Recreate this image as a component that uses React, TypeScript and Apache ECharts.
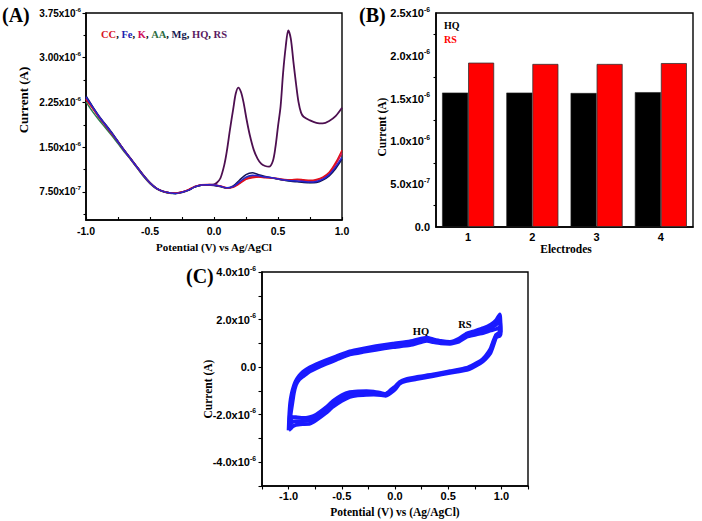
import React, { useEffect, useRef } from "react";
import * as echarts from "echarts";

// ---------- Panel A: DPV curves (current in µA) ----------
const potentialA = [-1.0, -0.95, -0.9, -0.85, -0.8, -0.75, -0.7, -0.65, -0.6, -0.55, -0.5, -0.45, -0.4, -0.35, -0.3, -0.25, -0.2, -0.15, -0.1, -0.05, 0.0, 0.05, 0.1, 0.15, 0.2, 0.25, 0.3, 0.35, 0.4, 0.45, 0.5, 0.55, 0.6, 0.65, 0.7, 0.75, 0.8, 0.85, 0.9, 0.95, 1.0];
const ccA = [2.30, 2.16, 2.01, 1.87, 1.73, 1.59, 1.44, 1.30, 1.16, 1.02, 0.90, 0.81, 0.76, 0.735, 0.73, 0.75, 0.79, 0.84, 0.87, 0.875, 0.87, 0.85, 0.82, 0.83, 0.89, 0.96, 0.99, 1.0, 0.99, 0.985, 0.975, 0.96, 0.955, 0.965, 0.955, 0.945, 0.96, 1.0, 1.08, 1.24, 1.45];
const feA = [2.34, 2.18, 2.02, 1.88, 1.74, 1.59, 1.44, 1.30, 1.16, 1.02, 0.90, 0.81, 0.76, 0.735, 0.725, 0.745, 0.78, 0.835, 0.865, 0.87, 0.865, 0.845, 0.82, 0.84, 0.92, 1.0, 1.03, 1.02, 1.0, 0.99, 0.97, 0.95, 0.94, 0.935, 0.925, 0.915, 0.925, 0.965, 1.04, 1.17, 1.33];
const kA = [2.31, 2.16, 2.01, 1.87, 1.73, 1.59, 1.44, 1.30, 1.16, 1.02, 0.90, 0.81, 0.76, 0.735, 0.728, 0.748, 0.785, 0.84, 0.868, 0.872, 0.868, 0.848, 0.82, 0.835, 0.9, 0.97, 1.0, 1.005, 0.995, 0.985, 0.97, 0.955, 0.95, 0.955, 0.94, 0.93, 0.945, 0.985, 1.06, 1.21, 1.40];
const aaA = [2.26, 2.10, 1.96, 1.83, 1.70, 1.56, 1.42, 1.29, 1.15, 1.01, 0.89, 0.805, 0.755, 0.73, 0.725, 0.745, 0.78, 0.835, 0.862, 0.868, 0.862, 0.842, 0.815, 0.835, 0.91, 0.985, 1.015, 1.01, 0.995, 0.985, 0.965, 0.945, 0.935, 0.93, 0.92, 0.91, 0.92, 0.96, 1.03, 1.16, 1.32];
const mgA = [2.36, 2.19, 2.03, 1.89, 1.75, 1.60, 1.45, 1.31, 1.17, 1.03, 0.91, 0.815, 0.762, 0.735, 0.725, 0.742, 0.778, 0.832, 0.862, 0.868, 0.86, 0.84, 0.815, 0.85, 0.95, 1.04, 1.07, 1.04, 1.01, 0.99, 0.965, 0.945, 0.93, 0.92, 0.91, 0.905, 0.91, 0.95, 1.02, 1.14, 1.30];
const hqrsPotential = [-1.0, -0.95, -0.9, -0.85, -0.8, -0.75, -0.7, -0.65, -0.6, -0.55, -0.5, -0.45, -0.4, -0.35, -0.3, -0.25, -0.2, -0.15, -0.1, -0.05, 0.0, 0.02, 0.05, 0.08, 0.1, 0.125, 0.15, 0.17, 0.19, 0.21, 0.23, 0.255, 0.28, 0.31, 0.34, 0.37, 0.4, 0.43, 0.46, 0.48, 0.5, 0.52, 0.54, 0.56, 0.58, 0.6, 0.62, 0.64, 0.66, 0.68, 0.7, 0.75, 0.8, 0.85, 0.9, 0.95, 1.0];
const hqrsCurrent = [2.33, 2.17, 2.01, 1.87, 1.73, 1.59, 1.44, 1.30, 1.16, 1.02, 0.90, 0.81, 0.76, 0.735, 0.727, 0.747, 0.783, 0.838, 0.866, 0.87, 0.875, 0.9, 0.98, 1.2, 1.43, 1.8, 2.14, 2.40, 2.50, 2.43, 2.26, 1.96, 1.70, 1.46, 1.31, 1.22, 1.185, 1.175, 1.27, 1.50, 1.85, 2.18, 2.75, 3.18, 3.46, 3.32, 2.94, 2.58, 2.26, 2.08, 2.01, 1.95, 1.91, 1.90, 1.94, 2.02, 2.16];
const aYTicks = [0.75, 1.5, 2.25, 3.0, 3.75];
const aYMinorTicks = [0.375, 1.125, 1.875, 2.625, 3.375];
const aLegend = [
  { name: "CC", color: "#d8121e" },
  { name: "Fe", color: "#1c1cb0" },
  { name: "K", color: "#d0105c" },
  { name: "AA", color: "#2d6e44" },
  { name: "Mg", color: "#161650" },
  { name: "HQ", color: "#5a1a62" },
  { name: "RS", color: "#5a1a62" },
];

// ---------- Panel B: bars (µA) ----------
const electrodes = ["1", "2", "3", "4"];
const hqB = [1.57, 1.57, 1.565, 1.575];
const rsB = [1.92, 1.905, 1.905, 1.915];

// ---------- Panel C: CV cycles (potential V, current µA) ----------
const cvOuter = [
  [-1.0, -2.66], [-0.995, -2.1], [-0.985, -1.5], [-0.97, -1.1], [-0.95, -0.78], [-0.93, -0.56], [-0.9, -0.36], [-0.867, -0.2], [-0.81, -0.03], [-0.74, 0.12], [-0.65, 0.29], [-0.55, 0.46], [-0.425, 0.66], [-0.3, 0.78], [-0.18, 0.88], [-0.02, 0.99], [0.14, 1.08], [0.26, 1.21], [0.3, 1.24], [0.36, 1.17], [0.43, 1.1], [0.517, 1.06], [0.6, 1.19], [0.675, 1.42], [0.75, 1.52], [0.832, 1.64], [0.9, 1.79], [0.95, 1.97], [0.985, 2.22],
  [0.992, 1.85], [0.995, 1.5], [0.985, 1.32], [0.95, 1.25], [0.92, 0.86], [0.896, 0.58], [0.85, 0.34], [0.8, 0.16], [0.675, -0.12], [0.517, -0.24], [0.359, -0.38], [0.2, -0.51], [0.1, -0.59], [0.043, -0.7], [0.005, -0.92], [-0.04, -1.09], [-0.089, -1.21], [-0.13, -1.18], [-0.2, -1.16], [-0.267, -1.17], [-0.35, -1.19], [-0.425, -1.25], [-0.5, -1.42], [-0.583, -1.67], [-0.65, -1.93], [-0.741, -2.23], [-0.8, -2.38], [-0.867, -2.4], [-0.93, -2.43], [-0.962, -2.5], [-0.985, -2.6], [-1.0, -2.66],
];
const cvMiddle = [
  [-0.995, -2.48], [-0.99, -2.12], [-0.98, -1.72], [-0.968, -1.32], [-0.95, -0.94], [-0.93, -0.65], [-0.9, -0.44], [-0.867, -0.30], [-0.81, -0.12], [-0.74, 0.03], [-0.65, 0.21], [-0.55, 0.38], [-0.425, 0.60], [-0.3, 0.71], [-0.18, 0.80], [-0.02, 0.91], [0.14, 1.0], [0.26, 1.14], [0.3, 1.17], [0.36, 1.11], [0.43, 1.05], [0.517, 1.02], [0.6, 1.13], [0.675, 1.35], [0.75, 1.43], [0.832, 1.52], [0.9, 1.65], [0.95, 1.78], [0.983, 1.94],
  [0.99, 1.72], [0.99, 1.5], [0.98, 1.4], [0.95, 1.31], [0.92, 0.95], [0.896, 0.66], [0.85, 0.40], [0.8, 0.20], [0.675, -0.07], [0.517, -0.20], [0.359, -0.34], [0.2, -0.46], [0.1, -0.55], [0.043, -0.66], [0.005, -0.86], [-0.04, -1.02], [-0.089, -1.17], [-0.13, -1.13], [-0.2, -1.09], [-0.267, -1.09], [-0.35, -1.10], [-0.425, -1.15], [-0.5, -1.30], [-0.583, -1.55], [-0.65, -1.81], [-0.741, -2.12], [-0.8, -2.24], [-0.867, -2.27], [-0.93, -2.27], [-0.962, -2.30], [-0.98, -2.4], [-0.995, -2.48],
];
const cvInner = [
  [-0.99, -2.3], [-0.985, -2.15], [-0.978, -1.9], [-0.965, -1.52], [-0.95, -1.08], [-0.93, -0.74], [-0.9, -0.52], [-0.867, -0.4], [-0.81, -0.21], [-0.74, -0.05], [-0.65, 0.13], [-0.55, 0.31], [-0.425, 0.53], [-0.3, 0.64], [-0.18, 0.73], [-0.02, 0.84], [0.14, 0.92], [0.26, 1.07], [0.3, 1.1], [0.36, 1.05], [0.43, 1.0], [0.517, 0.98], [0.6, 1.07], [0.675, 1.28], [0.75, 1.36], [0.832, 1.44], [0.9, 1.54], [0.95, 1.6], [0.98, 1.66],
  [0.985, 1.5], [0.97, 1.42], [0.95, 1.36], [0.92, 1.04], [0.896, 0.75], [0.85, 0.46], [0.8, 0.25], [0.675, -0.03], [0.517, -0.17], [0.359, -0.31], [0.2, -0.42], [0.1, -0.51], [0.043, -0.63], [0.005, -0.8], [-0.04, -0.96], [-0.089, -1.13], [-0.13, -1.09], [-0.2, -1.03], [-0.267, -1.01], [-0.35, -1.02], [-0.425, -1.05], [-0.5, -1.18], [-0.583, -1.43], [-0.65, -1.7], [-0.741, -2.0], [-0.8, -2.1], [-0.867, -2.14], [-0.93, -2.1], [-0.962, -2.1], [-0.975, -2.18], [-0.985, -2.25], [-0.99, -2.3],
];

const SANS = "Liberation Sans, Arial, sans-serif";
const SERIF = "Liberation Serif, Times New Roman, serif";

function sciLabel(v: number, digits: number) {
  if (Math.abs(v) < 1e-9) return "{m|0.0}";
  const a = Math.abs(v);
  let mant: number, exp: number;
  if (a < 1) { mant = v * 10; exp = -7; } else { mant = v; exp = -6; }
  return `{m|${mant.toFixed(digits)}x10}{e|${exp}}`;
}

const richLabel = (size: number) => ({
  m: { fontFamily: SANS, fontWeight: "bold", fontSize: size, color: "#000", lineHeight: size + 4 },
  e: { fontFamily: SANS, fontWeight: "bold", fontSize: size * 0.62, color: "#000", verticalAlign: "top", lineHeight: size * 0.62 },
});

const axisLine = { show: true, onZero: false, lineStyle: { color: "#000", width: 1.6 } };
const tickStyle = { color: "#000", width: 1.1 };

export default function App() {
  const ref = useRef<HTMLDivElement>(null);
  useEffect(() => {
    if (!ref.current) return;
    const chart = echarts.init(ref.current, undefined, { renderer: "svg" });
    const pair = (xs: number[], ys: number[]) => xs.map((x, i) => [x, ys[i]]);
    const aSeries = [
      { name: "HQ, RS", data: pair(hqrsPotential, hqrsCurrent), color: "#4d0f50", width: 1.8 },
      { name: "AA", data: pair(potentialA, aaA), color: "#2e7d4f", width: 1.5 },
      { name: "Mg", data: pair(potentialA, mgA), color: "#14145a", width: 1.5 },
      { name: "K", data: pair(potentialA, kA), color: "#d0105c", width: 1.5 },
      { name: "CC", data: pair(potentialA, ccA), color: "#e0101a", width: 1.5 },
      { name: "Fe", data: pair(potentialA, feA), color: "#2424d0", width: 1.5 },
    ].map((s) => ({
      type: "line", name: s.name, xAxisIndex: 0, yAxisIndex: 0, data: s.data,
      showSymbol: false, smooth: 0.3, lineStyle: { color: s.color, width: s.width }, itemStyle: { color: s.color },
    }));
    const cvSeries = [cvOuter, cvMiddle, cvInner].map((d, i) => ({
      type: "line", name: "cycle" + (i + 1), xAxisIndex: 3, yAxisIndex: 3, data: d,
      showSymbol: false, smooth: 0.15, lineStyle: { color: "#1a1aff", width: 3.8 },
    }));

    const legendRich: any = {};
    const parts: string[] = [];
    aLegend.forEach((l, i) => {
      legendRich["c" + i] = { fill: l.color, color: l.color, fontFamily: SERIF, fontWeight: "bold", fontSize: 10.5 };
      parts.push(`{c${i}|${l.name}}`);
    });
    legendRich.sep = { fill: "#000", color: "#000", fontFamily: SERIF, fontWeight: "bold", fontSize: 10.5 };
    const legendText = parts.join("{sep|, }");

    const title = (text: string, x: number, y: number, size: number, rot = 0, color = "#000") => ({
      type: "text", x, y, rotation: rot,
      style: { text, fill: color, fontFamily: SERIF, fontWeight: "bold", fontSize: size, align: "center", verticalAlign: "middle" },
    });

    chart.setOption({
      animation: false,
      backgroundColor: "#fff",
      grid: [
        { left: 86, top: 13, width: 256, height: 207, show: true, borderColor: "#000", borderWidth: 1.4 },
        { left: 436, top: 13, width: 257, height: 214, show: true, borderColor: "#000", borderWidth: 1.4 },
        { left: 262, top: 272, width: 266, height: 214, show: true, borderColor: "#000", borderWidth: 1.4 },
      ],
      xAxis: [
        {
          type: "value", gridIndex: 0, min: -1, max: 1, interval: 0.5,
          axisLine, axisTick: { inside: true, length: 3, lineStyle: tickStyle },
          minorTick: { show: true, splitNumber: 2, length: 3, lineStyle: tickStyle },
          axisLabel: { formatter: (v: number) => v.toFixed(1), fontFamily: SANS, fontWeight: "bold", fontSize: 10.5, color: "#000", margin: 5 },
          splitLine: { show: false }, minorSplitLine: { show: false },
        },
        {
          type: "category", gridIndex: 1, data: electrodes,
          axisLine, axisTick: { alignWithLabel: true, length: 4, lineStyle: tickStyle },
          axisLabel: { fontFamily: SANS, fontWeight: "bold", fontSize: 11, color: "#000", margin: 4 },
          splitLine: { show: false },
        },
        {
          type: "category", gridIndex: 1, data: electrodes, position: "bottom",
          axisLine: { show: false, onZero: false }, axisTick: { alignWithLabel: false, length: 2.5, lineStyle: tickStyle },
          axisLabel: { show: false }, splitLine: { show: false },
        },
        {
          type: "value", gridIndex: 2, min: -1.25, max: 1.25, interval: 0.25,
          axisLine, axisTick: { length: 3.5, lineStyle: tickStyle },
          axisLabel: {
            formatter: (v: number) => (Math.abs(v * 2 - Math.round(v * 2)) < 1e-6 ? v.toFixed(1) : ""),
            fontFamily: SANS, fontWeight: "bold", fontSize: 11, color: "#000", margin: 4,
          },
          splitLine: { show: false },
        },
      ],
      yAxis: [
        {
          type: "value", gridIndex: 0, min: 0.28, max: 3.75,
          axisLine, axisTick: { customValues: aYTicks, length: 3.5, lineStyle: tickStyle },
          axisLabel: { customValues: aYTicks, formatter: (v: number) => sciLabel(v, 2), rich: richLabel(10), margin: 5 },
          splitLine: { show: false },
        },
        {
          type: "value", gridIndex: 0, min: 0.28, max: 3.75, position: "left",
          axisLine: { show: false, onZero: false }, axisTick: { customValues: aYMinorTicks, length: 2.5, lineStyle: tickStyle },
          axisLabel: { show: false }, splitLine: { show: false },
        },
        {
          type: "value", gridIndex: 1, min: 0, max: 2.5, interval: 0.5,
          axisLine, axisTick: { length: 4, lineStyle: tickStyle },
          minorTick: { show: true, splitNumber: 2, length: 2.5, lineStyle: tickStyle },
          axisLabel: { formatter: (v: number) => sciLabel(v, 1), rich: richLabel(11), margin: 6 },
          splitLine: { show: false }, minorSplitLine: { show: false },
        },
        {
          type: "value", gridIndex: 2, min: -5, max: 4, interval: 1,
          axisLine, axisTick: { length: 3.5, lineStyle: tickStyle },
          axisLabel: { formatter: (v: number) => (Math.round(v) % 2 === 0 ? sciLabel(v, 1) : ""), rich: richLabel(11), margin: 6 },
          splitLine: { show: false },
        },
      ],
      series: [
        ...aSeries,
        {
          type: "bar", name: "HQ", xAxisIndex: 1, yAxisIndex: 2, data: hqB, barGap: "0%", barCategoryGap: "19%",
          itemStyle: { color: "#000", borderColor: "#222", borderWidth: 0.6 },
        },
        {
          type: "bar", name: "RS", xAxisIndex: 1, yAxisIndex: 2, data: rsB, barGap: "0%", barCategoryGap: "19%",
          itemStyle: { color: "#ff0000", borderColor: "#333", borderWidth: 0.8 },
        },
        ...cvSeries,
      ],
      graphic: [
        { type: "text", x: 2, y: 15, style: { text: "(A)", fill: "#000", fontFamily: SERIF, fontWeight: "bold", fontSize: 20, align: "left", verticalAlign: "middle" } },
        { type: "text", x: 359, y: 15, style: { text: "(B)", fill: "#000", fontFamily: SERIF, fontWeight: "bold", fontSize: 20, align: "left", verticalAlign: "middle" } },
        { type: "text", x: 186, y: 276, style: { text: "(C)", fill: "#000", fontFamily: SERIF, fontWeight: "bold", fontSize: 20, align: "left", verticalAlign: "middle" } },
        title("Current (A)", 23, 100, 13, Math.PI / 2),
        title("Potential (V) vs Ag/AgCl", 214, 247, 11),
        title("Electrodes", 566, 249, 11.5),
        title("Current (A)", 382, 127, 11.5, Math.PI / 2),
        title("Potential (V) vs (Ag/AgCl)", 395, 512, 11.5),
        title("Current (A)", 208, 389, 11.5, Math.PI / 2),
        { type: "text", x: 101, y: 34, style: { text: legendText, rich: legendRich, align: "left", verticalAlign: "middle" } },
        { type: "text", x: 444, y: 25, style: { text: "HQ", fill: "#000", fontFamily: SERIF, fontWeight: "bold", fontSize: 10, align: "left", verticalAlign: "middle" } },
        { type: "text", x: 444, y: 39, style: { text: "RS", fill: "#ff0000", fontFamily: SERIF, fontWeight: "bold", fontSize: 10, align: "left", verticalAlign: "middle" } },
        title("HQ", 421, 331, 10.5),
        title("RS", 465, 324, 10.5),
      ],
    });
    return () => chart.dispose();
  }, []);
  return <div ref={ref} style={{ position: "fixed", left: 0, top: 0, width: 702, height: 521, background: "#fff" }} />;
}
